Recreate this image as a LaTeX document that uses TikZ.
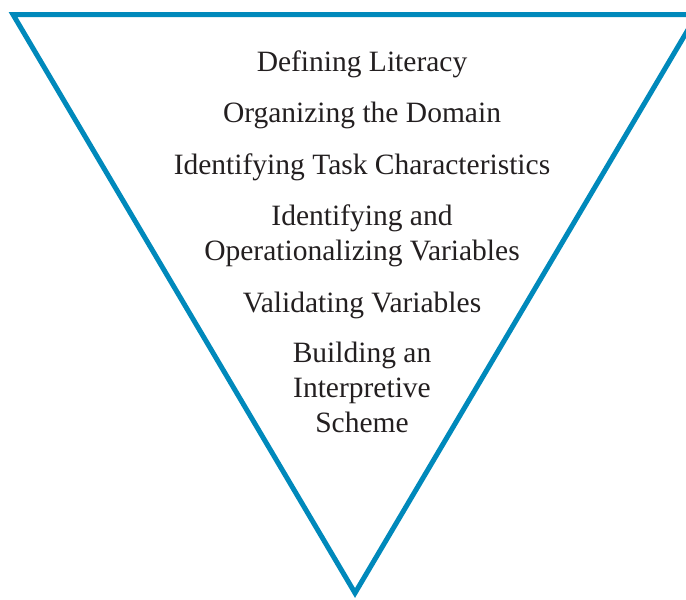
\documentclass[tikz,border=0pt]{standalone}
\usepackage{fontspec}
\setmainfont{Liberation Serif}
\definecolor{funnelblue}{RGB}{0,137,187}
\definecolor{inktext}{RGB}{35,31,32}

\begin{document}
\begin{tikzpicture}[x=1pt,y=-1pt,
    stage/.style={anchor=base,align=center,inner sep=0pt,
      font=\fontsize{29.5}{35}\selectfont,text=inktext}]
	\useasboundingbox (0,0) rectangle (686,600);
	\clip (0,0) rectangle (686,600);
	\coordinate (tl) at (13,14.5);
	\coordinate (tr) at (697,14.5);
	\coordinate (apex) at (355,593);
	\draw[funnelblue,line width=5pt,line join=miter] (tl) -- (tr) -- (apex) -- cycle;
	% base of a multi-line node is its last line
	\node[stage] (define) at (362,71) {Defining Literacy};
	\node[stage] (organize) at (362,122) {Organizing the Domain};
	\node[stage] (task) at (362,174) {Identifying Task Characteristics};
	\node[stage] (operate) at (362,260) {Identifying and\\Operationalizing Variables};
	\node[stage] (validate) at (362,312) {Validating Variables};
	\node[stage] (scheme) at (362,432) {Building an\\Interpretive\\Scheme};
\end{tikzpicture}
\end{document}
